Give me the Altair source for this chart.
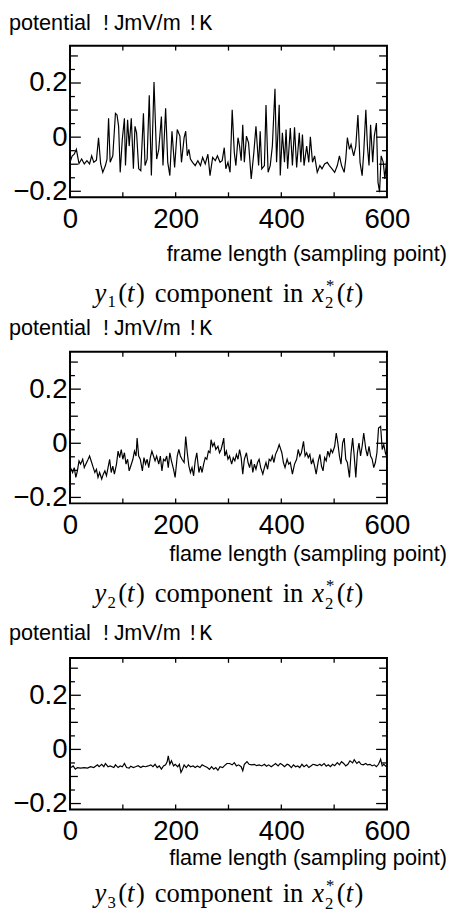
import altair as alt
import pandas as pd

# ---------------- data ----------------
S1 = [0,4,8,12,17,22,27,32,37,41,45,50,54,58,62,67,70,73,76,81,86,89,92,95,99,103,105,109,112,116,
      120,123,126,130,134,139,142,146,150,154,159,164,168,173,176,181,185,189,193,198,203,208,211,216,219,222,225,228,232,237,
      242,247,251,256,261,265,270,275,279,284,288,292,295,299,303,307,311,314,318,321,324,327,330,334,338,343,348,352,357,360,
      363,368,371,375,379,383,388,391,396,398,402,406,409,412,417,421,425,429,434,437,440,443,448,452,455,459,463,468,473,477,
      482,487,491,496,501,506,510,514,519,522,525,529,532,537,541,545,549,553,556,560,563,566,569,573,576,580,583,586,589,593,596,600]
V1 = [-0.093,-0.07,-0.063,-0.045,-0.098,-0.081,-0.099,-0.087,-0.099,-0.069,
      -0.093,-0.085,-0.002,-0.099,-0.130,-0.105,-0.081,0.070,-0.093,-0.069,
      0.088,0.082,0.040,-0.130,-0.008,0.070,-0.105,0.064,-0.033,0.070,
      -0.117,0.040,0.016,-0.117,-0.124,0.088,-0.105,-0.081,0.155,-0.142,
      0.204,-0.081,-0.045,0.076,-0.105,0.107,-0.093,-0.142,0.022,-0.112,
      0.028,0.004,-0.093,-0.002,0.022,-0.069,-0.045,-0.081,-0.093,-0.105,
      -0.087,-0.105,-0.075,-0.099,-0.063,-0.142,-0.075,-0.087,-0.069,-0.093,
      -0.087,-0.039,-0.117,-0.093,-0.130,0.101,-0.057,-0.105,-0.002,-0.033,
      -0.087,0.046,-0.093,0.004,-0.021,-0.154,-0.057,0.040,-0.105,0.022,
      -0.117,-0.105,0.119,-0.130,-0.105,-0.033,0.179,-0.093,0.120,-0.142,
      0.016,-0.093,0.028,-0.117,0.034,-0.105,0.036,-0.112,0.016,-0.093,
      0.010,-0.105,-0.033,-0.093,0.001,-0.093,-0.069,-0.130,-0.105,-0.117,
      -0.099,-0.093,-0.105,-0.117,-0.130,-0.105,-0.069,-0.105,-0.130,-0.081,
      -0.002,-0.045,-0.027,-0.069,-0.033,0.082,-0.093,-0.142,-0.057,0.101,
      -0.033,-0.105,0.046,-0.093,0.004,0.052,-0.166,-0.203,-0.069,-0.093,
      -0.154,-0.069]

S2 = [1,5,8,11,14,17,20,24,27,30,33,37,41,44,47,50,53,56,60,63,66,69,72,75,78,81,84,88,91,94,
      97,100,103,106,109,112,115,119,122,125,127,130,133,137,140,143,146,149,152,155,158,161,164,168,171,174,177,180,183,186,
      189,192,196,199,
      203,206,209,212,216,219,222,225,228,231,234,237,240,244,247,250,253,256,259,262,
      265,267,270,273,276,280,283,286,289,291,293,296,299,302,306,309,312,315,318,321,
      324,327,330,334,337,340,343,346,349,352,355,358,361,365,368,371,374,377,380,383,
      386,389,393,396,
      401,404,407,411,414,417,421,425,429,432,435,438,442,445,448,451,454,457,460,463,
      466,470,473,476,479,482,485,488,491,494,497,501,504,507,510,513,516,519,522,525,
      529,532,535,538,541,544,547,550,553,556,560,563,566,569,572,575,578,581,584,588,
      591,594,597,600]
V2 = [-0.090,-0.108,-0.090,-0.126,-0.102,-0.065,-0.077,-0.059,-0.090,-0.077,
      -0.065,-0.047,-0.071,-0.090,-0.108,-0.096,-0.126,-0.108,-0.132,-0.114,
      -0.102,-0.120,-0.090,-0.059,-0.108,-0.084,-0.114,-0.077,-0.029,-0.053,
      -0.023,-0.059,-0.035,-0.077,-0.059,-0.102,-0.084,-0.059,-0.029,-0.047,
      0.019,-0.047,-0.059,-0.102,-0.053,-0.077,-0.059,-0.090,-0.053,-0.029,
      -0.047,-0.065,-0.047,-0.077,-0.047,-0.102,-0.059,-0.065,-0.047,-0.090,
      -0.035,-0.065,-0.096,-0.126,
      -0.047,-0.023,-0.047,-0.059,-0.071,0.025,-0.035,-0.084,-0.108,-0.090,
      -0.120,-0.065,-0.035,-0.108,-0.084,-0.108,-0.077,-0.053,-0.059,-0.029,
      -0.035,0.013,-0.011,0.001,-0.023,-0.011,-0.035,-0.023,0.001,0.019,
      -0.047,-0.029,-0.059,-0.047,-0.077,-0.053,-0.065,-0.041,-0.059,-0.023,
      -0.053,-0.114,-0.059,-0.035,-0.071,-0.090,-0.059,-0.108,-0.077,-0.096,
      -0.071,-0.059,-0.090,-0.114,-0.090,-0.071,-0.096,-0.059,-0.065,-0.047,
      -0.071,-0.041,-0.023,-0.005,
      -0.035,-0.071,-0.090,-0.059,-0.077,-0.071,-0.114,-0.077,-0.059,-0.023,
      -0.047,-0.035,0.007,-0.047,-0.035,-0.053,-0.041,-0.077,-0.059,-0.084,
      -0.114,-0.065,-0.041,-0.084,-0.102,-0.053,-0.065,-0.029,-0.047,-0.023,
      -0.035,-0.011,0.038,0.001,-0.047,-0.077,0.001,0.019,-0.059,-0.071,
      -0.126,-0.035,0.019,-0.047,-0.126,-0.035,0.001,-0.047,-0.011,0.038,
      -0.023,-0.047,-0.011,-0.047,-0.059,-0.090,-0.071,-0.035,0.056,0.062,
      -0.023,-0.005,-0.035,-0.053]

S3 = [2,6,10,14,20,27,33,39,45,52,55,60,64,67,72,76,83,86,91,95,
      99,103,107,112,115,120,124,129,134,138,143,148,153,157,161,165,169,173,177,181,
      184,186,189,192,196,199,204,207,210,213,216,220,224,228,233,237,241,246,250,255,
      260,264,268,272,276,280,284,289,292,297,
      302,307,311,315,319,324,327,330,335,339,344,349,353,358,363,368,372,376,381,386,
      389,394,398,402,406,411,414,419,423,427,431,435,439,443,448,452,456,460,464,468,
      473,476,481,485,489,493,497,501,506,510,514,518,522,526,530,535,538,543,547,551,
      555,560,563,568,572,576,580,584,588,591,594,599]
V3 = [-0.067,-0.061,-0.073,-0.067,-0.069,-0.067,-0.069,-0.064,-0.067,-0.057,
      -0.064,-0.055,-0.064,-0.052,-0.064,-0.061,-0.067,-0.057,-0.067,-0.061,
      -0.064,-0.052,-0.067,-0.069,-0.062,-0.067,-0.064,-0.060,-0.067,-0.062,
      -0.064,-0.061,-0.057,-0.064,-0.055,-0.067,-0.061,-0.073,-0.061,-0.057,
      -0.045,-0.024,-0.055,-0.042,-0.061,-0.055,-0.064,-0.055,-0.085,-0.073,
      -0.057,-0.067,-0.057,-0.064,-0.061,-0.067,-0.061,-0.067,-0.057,-0.062,
      -0.067,-0.074,-0.064,-0.073,-0.067,-0.077,-0.064,-0.067,-0.061,-0.052,
      -0.052,-0.057,-0.049,-0.061,-0.057,-0.064,-0.079,-0.055,-0.045,-0.055,
      -0.057,-0.055,-0.060,-0.057,-0.061,-0.055,-0.062,-0.057,-0.064,-0.057,
      -0.052,-0.061,-0.052,-0.057,-0.064,-0.055,-0.057,-0.067,-0.057,-0.064,
      -0.061,-0.067,-0.055,-0.064,-0.057,-0.067,-0.061,-0.055,-0.057,-0.060,
      -0.055,-0.060,-0.052,-0.062,-0.057,-0.064,-0.055,-0.060,-0.049,-0.057,
      -0.045,-0.052,-0.061,-0.055,-0.042,-0.050,-0.038,-0.052,-0.045,-0.055,
      -0.057,-0.052,-0.057,-0.055,-0.061,-0.057,-0.064,-0.055,-0.036,-0.061,
      -0.055,-0.064]

X_LABELS = [0, 200, 400, 600]
X_TICKS = [100, 200, 300, 400, 500]
Y_LABELS = [-0.2, 0, 0.2]
Y_TENTHS = [-0.1, 0.1, 0.3]
Y_HALVES = [-0.15, -0.05, 0.05, 0.15, 0.25]
X_DOMAIN = [0, 600]
Y_DOMAIN = [-0.222, 0.338]

X_TITLES = ["frame length (sampling point)", "flame length (sampling point)", "flame length (sampling point)"]
CAPTION_INDEX = ["1", "2", "3"]
Y_LABEL_PARTS = [("potential", "Liberation Sans"), ("!J", "Liberation Mono"),
                 ("mV/m", "Liberation Sans"), ("!K", "Liberation Mono")]

W, H = 322, 154
SANS = "Liberation Sans"
SERIF = "Liberation Serif"

# per-panel vertical offsets (pixels, relative to the plot area)
UNIT_DY = [-16, -17, -18]
XTITLE_DY = [H + 65, H + 59, H + 56]
CAPTION_DY = [H + 106, H + 100, H + 94]
XLABEL_PAD = [9, 9, 8]


def text_layer(txt, x, y, font, size, align="left", style="normal"):
    return alt.Chart(pd.DataFrame({"t": [txt]})).mark_text(
        align=align, baseline="alphabetic", font=font, fontSize=size,
        fontStyle=style, color="black"
    ).encode(x=alt.value(x), y=alt.value(y), text="t:N")


def caption_layers(idx, base):
    big, small = 27, 17
    parts = [
        ("y", 25, base, big, "italic"),
        (idx, 38, base + 6, small, "normal"),
        ("(", 49, base, big, "normal"),
        ("t", 58, base, big, "italic"),
        (")", 67, base, big, "normal"),
        ("component", 86, base, big, "normal"),
        ("in", 216, base, big, "normal"),
        ("x", 246, base, big, "italic"),
        ("*", 260, base - 11, small, "normal"),
        ("2", 259, base + 7, small, "normal"),
        ("(", 271, base, big, "normal"),
        ("t", 280, base, big, "italic"),
        (")", 289, base, big, "normal"),
    ]
    return [text_layer(t, x, y, SERIF, s, style=st) for t, x, y, s, st in parts]


def panel(k, S, V):
    xs = alt.Scale(domain=X_DOMAIN, nice=False, zero=False)
    ys = alt.Scale(domain=Y_DOMAIN, nice=False, zero=False)
    df = pd.DataFrame({"s": S, "v": V})
    line = alt.Chart(df).mark_line(color="black", strokeWidth=1.2, clip=True).encode(
        x=alt.X("s:Q", scale=xs, title=None,
                axis=alt.Axis(values=X_LABELS, labelPadding=XLABEL_PAD[k], format="d", labelFlush=False)),
        y=alt.Y("v:Q", scale=ys, title=None,
                axis=alt.Axis(values=Y_LABELS, labelPadding=3, format="~g", labelFlush=False)),
    )
    layers = [line]
    # y ticks (inward, both sides)
    for vals, ln in [(Y_LABELS, 11), (Y_TENTHS, 8), (Y_HALVES, 5)]:
        d = pd.DataFrame({"v": vals})
        for x0, x1 in [(0, ln), (W, W - ln)]:
            layers.append(alt.Chart(d).mark_rule(color="black", strokeWidth=1.3).encode(
                y=alt.Y("v:Q", scale=ys), x=alt.value(x0), x2=alt.value(x1)))
    # x ticks (inward, top and bottom)
    dx = pd.DataFrame({"s": X_TICKS})
    for y0, y1 in [(0, 5), (H, H - 5)]:
        layers.append(alt.Chart(dx).mark_rule(color="black", strokeWidth=1.3).encode(
            x=alt.X("s:Q", scale=xs), y=alt.value(y0), y2=alt.value(y1)))
    # y unit label
    xpos = [-62, 30, 55, 118]
    for (txt, font), xp in zip(Y_LABEL_PARTS, xpos):
        layers.append(text_layer(txt, xp, UNIT_DY[k], font, 22))
    layers.append(text_layer(X_TITLES[k], 383, XTITLE_DY[k], SANS, 22, align="right"))
    layers += caption_layers(CAPTION_INDEX[k], CAPTION_DY[k])
    return alt.layer(*layers).properties(width=W, height=H)


chart = alt.vconcat(
    panel(0, S1, V1),
    panel(1, S2, V2),
    panel(2, S3, V3),
    spacing=157, bounds="flush",
).configure_view(stroke="black", strokeWidth=2).configure_axis(
    labelFont=SANS, labelFontSize=28, labelColor="black",
    ticks=False, tickSize=0, domain=False, grid=False,
).properties(padding={"left": 0, "top": -4, "right": 0, "bottom": 0})

chart.save("out.html", embed_options={"renderer": "svg", "actions": False})
